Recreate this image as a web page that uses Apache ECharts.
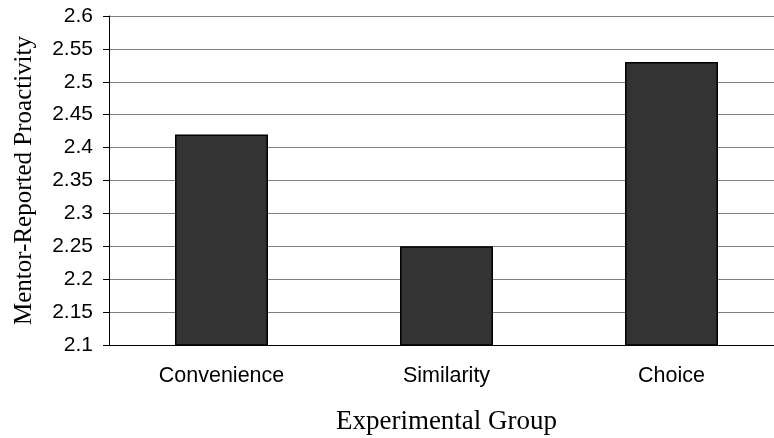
<!DOCTYPE html>
<html>
<head>
<meta charset="utf-8">
<script src="https://cdn.jsdelivr.net/npm/echarts@6/dist/echarts.min.js"></script>
<style>
  html, body { margin: 0; padding: 0; background: #fff; }
  #chart { width: 774px; height: 438px; }
</style>
</head>
<body>
<div id="chart"></div>
<script>
// 数据
const groups = ['Convenience', 'Similarity', 'Choice']
const proactivity = [2.42, 2.25, 2.53]
const yMin = 2.1
const yMax = 2.6
const yStep = 0.05

const chart = echarts.init(document.getElementById('chart'))

const option = {
  animation: false,
  grid: {
    left: 109,
    width: 675, // 右侧超出画布，与原图一致
    top: 16,
    bottom: 93,
    outerBoundsMode: 'none'
  },
  xAxis: {
    type: 'category',
    data: groups,
    name: 'Experimental Group',
    nameLocation: 'middle',
    nameGap: 63,
    nameTextStyle: {
      fontFamily: 'Liberation Serif',
      fontSize: 27,
      color: '#000'
    },
    axisLine: { lineStyle: { color: '#000', width: 1 } },
    axisTick: { length: 7, lineStyle: { color: '#000' } },
    axisLabel: {
      fontFamily: 'Liberation Sans',
      fontSize: 21.5,
      color: '#000',
      margin: 20
    }
  },
  yAxis: {
    type: 'value',
    min: yMin,
    max: yMax,
    interval: yStep,
    name: 'Mentor-Reported Proactivity',
    nameLocation: 'middle',
    nameGap: 72,
    nameTextStyle: {
      fontFamily: 'Liberation Serif',
      fontSize: 25,
      color: '#000'
    },
    axisLine: { show: true, lineStyle: { color: '#000', width: 1 } },
    axisTick: { show: true, length: 6, lineStyle: { color: '#000' } },
    axisLabel: {
      fontFamily: 'Liberation Sans',
      fontSize: 21,
      color: '#000',
      margin: 16,
      formatter: v => String(Math.round(v * 100) / 100)
    },
    splitLine: { lineStyle: { color: '#808080', width: 1 } }
  },
  series: [
    {
      type: 'bar',
      data: proactivity,
      barWidth: 93,
      itemStyle: {
        color: '#333333',
        borderColor: '#000',
        borderWidth: 1.5
      }
    }
  ]
}

chart.setOption(option)
</script>
</body>
</html>
